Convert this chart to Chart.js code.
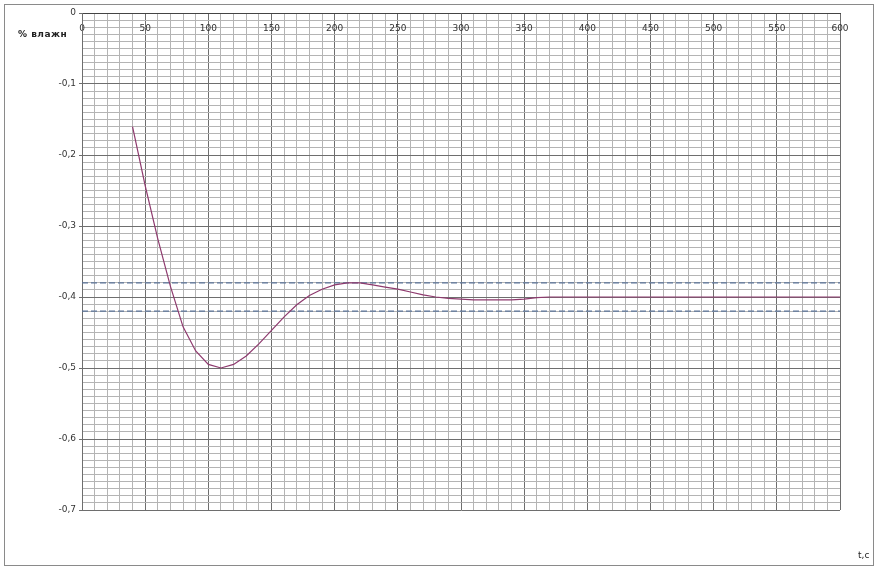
<!DOCTYPE html>
<html>
<head>
<meta charset="utf-8">
<script src="https://cdn.jsdelivr.net/npm/chart.js@4.4.1/dist/chart.umd.min.js"></script>
<style>
body { margin: 0; background: #fff; }
#wrap { position: relative; width: 878px; height: 570px; }
.lbl { position: absolute; font-family: "DejaVu Sans", sans-serif; font-size: 9px; color: #222; }
</style>
</head>
<body>
<div id="wrap">
	<canvas id="myChart" width="878" height="570"></canvas>
	<div class="lbl" style="left:18px; top:29px; font-weight:bold; letter-spacing:0.5px;">% влажн</div>
	<div class="lbl" style="left:858px; top:550px;">t,c</div>
</div>
<script>
// time, s
const times = [40, 50, 60, 70, 80, 90, 100, 110, 120, 130, 140, 150, 160, 170, 180, 190, 200,
	210, 220, 230, 240, 250, 260, 270, 280, 290, 300, 310, 320, 330, 340, 350, 360, 370, 600]
// humidity deviation
const humidity = [-0.16, -0.243, -0.318, -0.385, -0.442, -0.476, -0.495, -0.5, -0.495, -0.483,
	-0.466, -0.447, -0.428, -0.411, -0.398, -0.389, -0.383, -0.38, -0.38, -0.383, -0.386,
	-0.389, -0.393, -0.397, -0.4, -0.402, -0.403, -0.404, -0.404, -0.404, -0.404, -0.403,
	-0.401, -0.4, -0.4]
const upperBand = -0.38
const lowerBand = -0.42
const xRange = [0, 600]

const curve = times.map((t, i) => ({ x: t, y: humidity[i] }))

const frame = {
	id: 'frame',
	beforeDraw(chart) {
		const c = chart.ctx
		c.save()
		c.strokeStyle = '#8a8a8a'
		c.lineWidth = 1
		c.strokeRect(4.5, 4.5, 869, 561)
		c.restore()
	}
}

const ctx = document.getElementById('myChart')
var chart = new Chart(ctx, {
	type: 'scatter',
	data: {
		datasets: [{
			label: 'humidity',
			data: curve,
			showLine: true,
			pointRadius: 0,
			borderColor: '#8e3a6e',
			borderWidth: 1.2,
			tension: 0
		}, {
			label: 'upper',
			data: xRange.map(x => ({ x: x, y: upperBand })),
			showLine: true,
			pointRadius: 0,
			borderColor: '#5a7398',
			borderWidth: 1.3,
			borderDash: [6, 3]
		}, {
			label: 'lower',
			data: xRange.map(x => ({ x: x, y: lowerBand })),
			showLine: true,
			pointRadius: 0,
			borderColor: '#5a7398',
			borderWidth: 1.3,
			borderDash: [6, 3]
		}]
	},
	options: {
		responsive: false,
		animation: false,
		layout: { padding: { left: 0, top: 0, right: 38, bottom: 60 } },
		plugins: { legend: { display: false }, tooltip: { enabled: false } },
		scales: {
			x: {
				type: 'linear',
				position: 'top',
				min: 0,
				max: 600,
				afterFit: s => { s.height = 13 },
				ticks: {
					stepSize: 10,
					autoSkip: false,
					maxRotation: 0,
					mirror: true,
					padding: 10,
					color: '#333',
					font: { family: 'DejaVu Sans', size: 9 },
					callback: v => (v % 50 === 0 ? String(v) : '')
				},
				grid: {
					drawTicks: false,
					color: c => (c.tick && c.tick.value % 50 === 0 ? '#6e6e6e' : '#b4b4b4'),
					lineWidth: 1
				},
				border: { color: '#444' }
			},
			y: {
				min: -0.7,
				max: 0,
				afterFit: s => { s.width = 82 },
				ticks: {
					stepSize: 0.01,
					autoSkip: false,
					padding: 3,
					color: '#333',
					font: { family: 'DejaVu Sans', size: 9 },
					callback: v => {
						const k = Math.round(v * 100)
						if (k % 10 !== 0) return ''
						return k === 0 ? '0' : (k / 100).toFixed(1).replace('.', ',')
					}
				},
				grid: {
					tickLength: 3,
					color: c => (c.tick && Math.round(c.tick.value * 100) % 10 === 0 ? '#6e6e6e' : '#b4b4b4'),
					tickColor: c => (c.tick && Math.round(c.tick.value * 100) % 10 === 0 ? '#6e6e6e' : 'rgba(0,0,0,0)')
				},
				border: { color: '#6e6e6e' }
			}
		}
	},
	plugins: [frame]
})
</script>
</body>
</html>
